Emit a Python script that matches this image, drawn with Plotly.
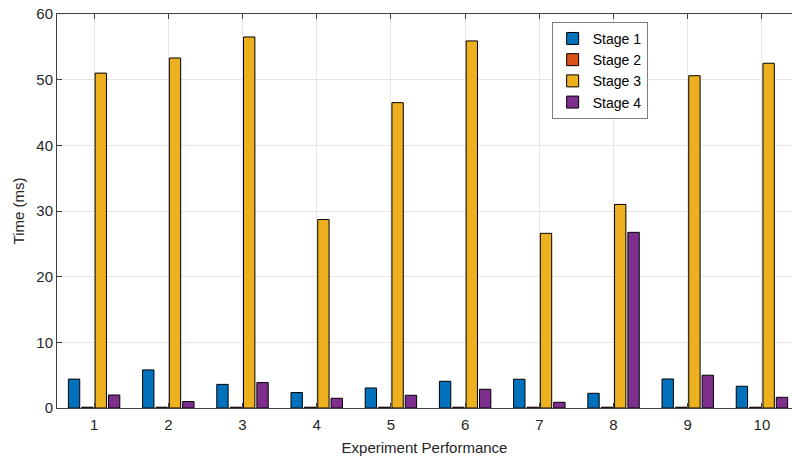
import plotly.graph_objects as go

experiments = [1, 2, 3, 4, 5, 6, 7, 8, 9, 10]
stage1 = [4.4, 5.8, 3.6, 2.35, 3.05, 4.07, 4.38, 2.24, 4.42, 3.31]
stage2 = [0.12, 0.12, 0.12, 0.12, 0.12, 0.12, 0.12, 0.12, 0.12, 0.12]
stage3 = [51.0, 53.3, 56.5, 28.7, 46.5, 55.9, 26.6, 31.0, 50.6, 52.5]
stage4 = [1.98, 0.98, 3.87, 1.48, 1.94, 2.85, 0.87, 26.75, 4.99, 1.63]
series_names = ["Stage 1", "Stage 2", "Stage 3", "Stage 4"]
series_colors = ["#0072BD", "#D95319", "#EDB120", "#7E2F8E"]
y_ticks = [0, 10, 20, 30, 40, 50, 60]

fig = go.Figure()
for name, vals, col in zip(series_names, [stage1, stage2, stage3, stage4], series_colors):
    fig.add_trace(go.Bar(
        x=experiments, y=vals, name=name,
        marker=dict(color=col, line=dict(color="#000000", width=1)),
    ))

axis_col = "#404040"
fig.update_layout(
    width=792, height=457,
    margin=dict(l=57, r=0, t=14, b=49),
    paper_bgcolor="white", plot_bgcolor="white",
    font=dict(family="Liberation Sans, Arial, sans-serif", size=14, color="#262626"),
    barmode="group", bargap=0.28, bargroupgap=0.15,
    showlegend=True,
    legend=dict(
        x=0.673, y=0.98, xanchor="left", yanchor="top",
        bgcolor="white", bordercolor="#7f7f7f", borderwidth=1,
        font=dict(size=14, color="#000000"),
        tracegroupgap=0, itemwidth=30,
    ),
    xaxis=dict(
        range=[0.5, 10.405], tickmode="array", tickvals=experiments,
        ticktext=[str(v) for v in experiments],
        ticks="inside", ticklen=5, tickcolor=axis_col,
        showline=True, linecolor=axis_col, linewidth=1, mirror="ticks",
        showgrid=True, gridcolor="#e5e5e5", gridwidth=1, zeroline=False,
        automargin=False, ticklabelstandoff=3, ticklabeloverflow="allow",
        title=dict(text="Experiment Performance", standoff=10, font=dict(size=15)),
        tickfont=dict(size=15),
    ),
    yaxis=dict(
        range=[0, 60], tickmode="array", tickvals=y_ticks,
        ticks="inside", ticklen=5, tickcolor=axis_col,
        showline=True, linecolor=axis_col, linewidth=1, mirror=False,
        showgrid=True, gridcolor="#e5e5e5", gridwidth=1, zeroline=False,
        automargin=False, ticklabeloverflow="allow",
        title=dict(text="Time (ms)", standoff=8, font=dict(size=15)),
        tickfont=dict(size=15),
    ),
)

fig.write_html(
    "out.html",
    config={"displayModeBar": False},
    post_script="document.body.style.margin='0px'; document.body.style.overflow='hidden';",
)
